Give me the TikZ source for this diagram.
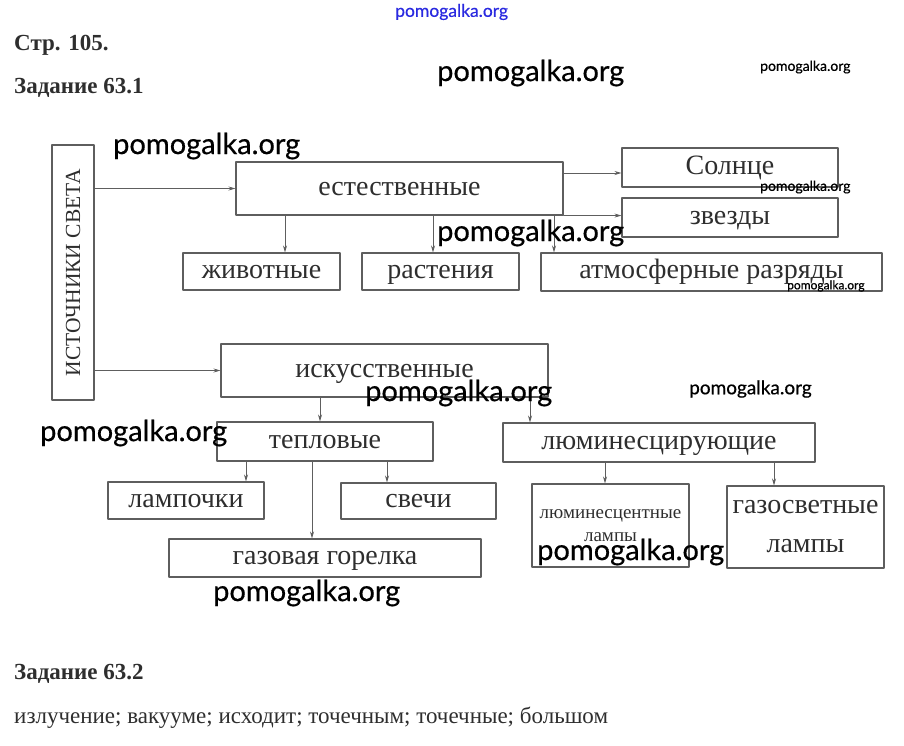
\documentclass[tikz,border=0pt]{standalone}
\usepackage{fontspec}
\setmainfont{Liberation Serif}
\newfontfamily\wmfont{Lato}[FakeBold=0.5]
\usetikzlibrary{arrows.meta}
\definecolor{boxgray}{HTML}{5E5E5E}
\definecolor{txtgray}{HTML}{2E2E2E}
\definecolor{wmblue}{HTML}{2A2AE0}

\begin{document}
\begin{tikzpicture}[line cap=round,line join=round,>={Stealth[length=7pt,width=4pt]},x=1pt,y=-1pt,
  block/.style={draw=boxgray,line width=1.1pt,inner sep=0pt,text=txtgray,font=\fontsize{28}{30}\selectfont,text height=13pt,text depth=0pt},
  twoline/.style={draw=boxgray,line width=1.1pt,inner sep=0pt,text=txtgray,align=center},
  wm/.style={anchor=west,inner sep=0pt,font=\wmfont\fontsize{29}{30}\selectfont},
  head/.style={anchor=west,inner sep=0pt,text=txtgray,font=\bfseries\fontsize{23}{26}\selectfont}]
\useasboundingbox (0,0) rectangle (904,745);
\node[head] (page) at (14,45) {Стр. 105.};
\node[head] (task1) at (14,88) {Задание 63.1};
\node[head] (task2) at (14,674) {Задание 63.2};
\node[anchor=west,inner sep=0pt,text=txtgray,font=\fontsize{23}{26}\selectfont] (answer) at (14,718) {излучение; вакууме; исходит; точечным; точечные; большом};
\node[block,minimum width=42pt,minimum height=255pt] (src) at (73,272.5) {};
\node[rotate=90,text=txtgray,font=\fontsize{21.5}{23}\selectfont] at (src.center) {ИСТОЧНИКИ СВЕТА};
\node[block,minimum width=327pt,minimum height=53pt] (nat) at (399.5,188.5) {естественные};
\node[block,minimum width=216pt,minimum height=39pt] (sun) at (730,167.5) {Солнце};
\node[block,minimum width=216pt,minimum height=39pt] (stars) at (730,217.5) {звезды};
\node[block,minimum width=157pt,minimum height=37pt] (anim) at (261.5,271.5) {животные};
\node[block,minimum width=157pt,minimum height=37pt] (plant) at (440.5,271.5) {растения};
\node[block,minimum width=341pt,minimum height=38pt] (atm) at (711.5,272) {атмосферные разряды};
\node[block,minimum width=327pt,minimum height=53pt] (art) at (384.5,370.5) {искусственные};
\node[block,minimum width=216pt,minimum height=39pt] (heat) at (325,441.5) {тепловые};
\node[block,minimum width=312pt,minimum height=39pt] (lum) at (659,442.5) {люминесцирующие};
\node[block,minimum width=156pt,minimum height=37pt] (bulb) at (186,500.5) {лампочки};
\node[block,minimum width=155pt,minimum height=36pt] (candle) at (418.5,501) {свечи};
\node[block,minimum width=312pt,minimum height=38pt] (gas) at (325,558) {газовая горелка};
\node[twoline,minimum width=157pt,minimum height=83pt,font=\fontsize{19}{23}\selectfont] (fluo) at (610.5,525.5) {люминесцентные\\лампы};
\node[twoline,minimum width=157pt,minimum height=82pt,font=\fontsize{28}{38}\selectfont] (glow) at (805.5,527) {газосветные\\[1pt]лампы};
\begin{scope}[boxgray,line width=0.7pt]
\draw[->] (src.east |- nat.west) -- (nat.west);
\draw[->] (src.east |- art.west) -- (art.west);
\draw[->] (nat.east |- 0,173) -- (sun.west |- 0,173);
\draw[->] (nat.south east) -- (nat.south east -| stars.west);
\foreach \a/\b/\x in {nat/anim/285,nat/plant/433,nat/atm/554,art/heat/320,art/lum/530,heat/bulb/246,heat/gas/312,heat/candle/387,lum/fluo/605,lum/glow/774}
\draw[->] (\a.south -| \x,0) -- (\b.north -| \x,0);
\end{scope}
\foreach \x/\y in {437/73,113/146,437/233,365/393,40/433,537/552,213/593}
\node[wm] at (\x,\y) {pomogalka.org};
\node[wm,font=\wmfont\fontsize{14}{15}\selectfont] at (760,67) {pomogalka.org};
\node[wm,font=\wmfont\fontsize{14}{15}\selectfont] at (760,187) {pomogalka.org};
\node[wm,font=\wmfont\fontsize{12}{13}\selectfont] at (787,286) {pomogalka.org};
\node[wm,font=\wmfont\fontsize{19}{20}\selectfont] at (689,389) {pomogalka.org};
\node[wm,text=wmblue,font=\wmfont\fontsize{17.5}{18}\selectfont] at (395,12) {pomogalka.org};
\end{tikzpicture}
\end{document}
